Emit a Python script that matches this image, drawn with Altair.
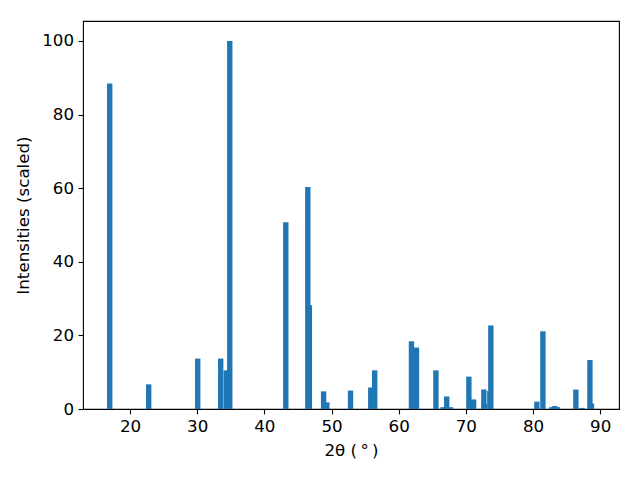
import altair as alt
import pandas as pd

# 2-theta positions (degrees) and scaled intensities, listed in drawing order
two_theta = [16.98, 22.78, 30.08, 33.50, 34.33, 34.85, 43.19, 46.70, 46.47,
             49.30, 48.82, 52.83, 55.84, 56.43, 62.65, 61.90, 65.54, 66.62,
             67.70, 67.15, 71.16, 70.45, 72.75, 72.68, 73.57, 73.72, 80.57,
             81.47, 82.79, 83.63, 83.24, 86.38, 87.30, 88.70, 88.47]
intensity = [88.4, 6.7, 13.7, 13.7, 10.5, 100.0, 50.7, 28.2, 60.3,
             1.8, 4.8, 5.0, 5.85, 10.5, 16.7, 18.4, 10.5, 0.5,
             0.5, 3.4, 2.6, 8.8, 1.4, 5.3, 4.9, 22.7, 2.0,
             21.1, 0.5, 0.5, 0.8, 5.3, 0.3, 1.5, 13.3]
bar_width = 0.8
x_ticks = [20, 30, 40, 50, 60, 70, 80, 90]
y_ticks = [0, 20, 40, 60, 80, 100]

df = pd.DataFrame({"pos": two_theta, "val": intensity, "order": list(range(len(two_theta)))})

FONT = "DejaVu Sans"
common = dict(
    grid=False, domain=False,
    tickColor="black", tickSize=4.9, tickWidth=1.1,
    labelFont=FONT, labelFontSize=16.7, labelColor="black", labelPadding=4.5,
    labelFlush=False,
    titleFont=FONT, titleFontSize=16.7, titleFontWeight="normal", titleColor="black",
)

chart = alt.Chart(df).transform_calculate(
    x0=f"datum.pos - {bar_width / 2}",
    x1=f"datum.pos + {bar_width / 2}",
).mark_rect(color="#1f77b4").encode(
    x=alt.X("x0:Q",
            scale=alt.Scale(domain=[13.0, 92.8], nice=False, zero=False),
            axis=alt.Axis(values=x_ticks, title="2θ (\u2009°\u2009)", titlePadding=7, **common)),
    x2="x1:Q",
    y=alt.Y("val:Q",
            scale=alt.Scale(domain=[0, 105.4], nice=False),
            axis=alt.Axis(values=y_ticks, title="Intensities (scaled)", titlePadding=9, **common)),
    y2=alt.datum(0),
    order="order:Q",
).properties(
    width=536, height=388,
    autosize=alt.AutoSizeParams(type="none"),
    padding={"left": 75, "top": 13, "right": 13, "bottom": 63},
).configure_view(
    stroke="black", strokeWidth=1.1
)

chart.save("out.html", embed_options={"renderer": "svg", "actions": False})
